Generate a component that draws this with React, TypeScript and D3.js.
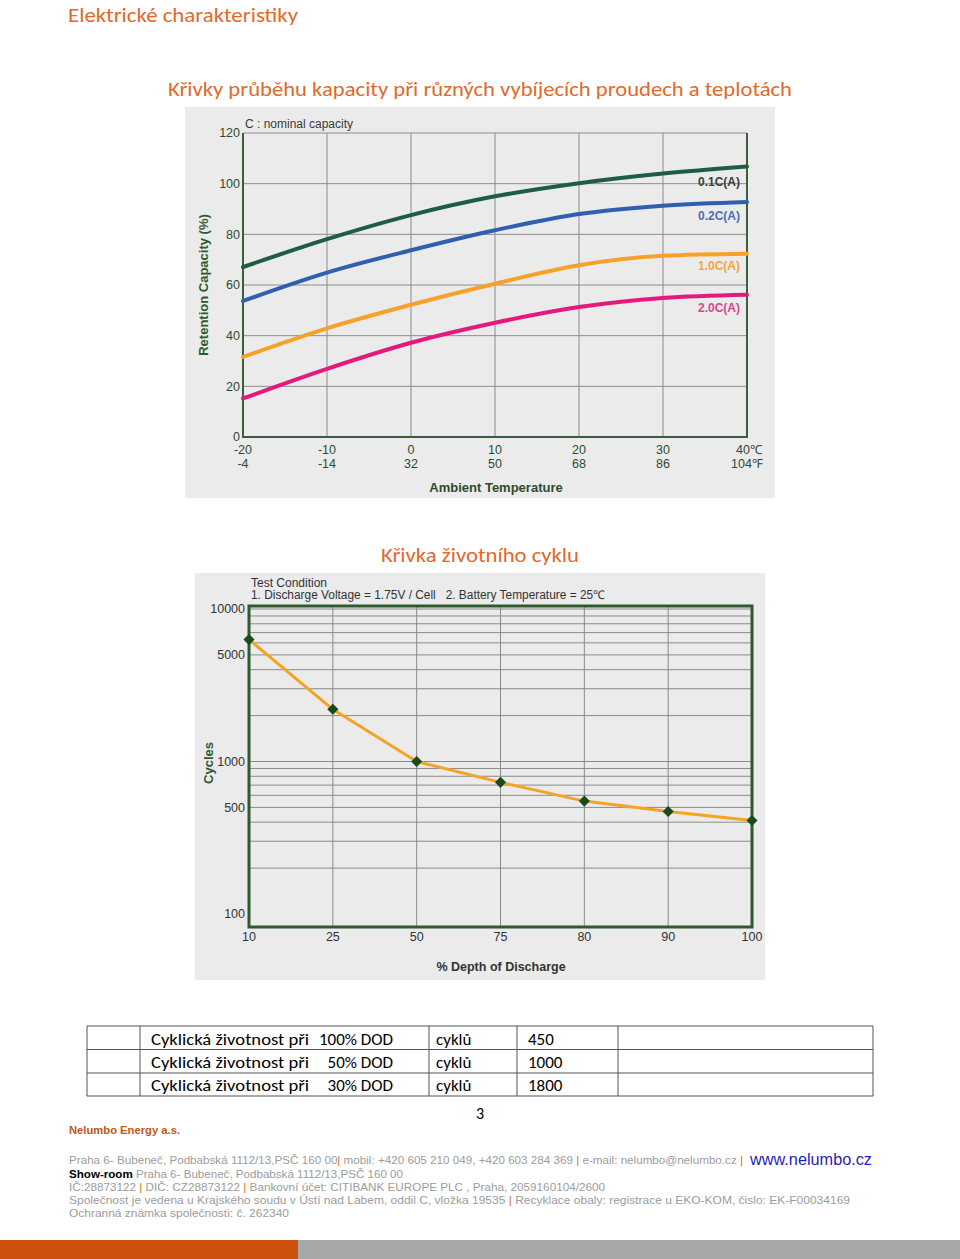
import React from "react";
import * as d3 from "d3";

// ---------- Chart 1 data: retention capacity vs ambient temperature ----------
const tempC = [-20, -10, 0, 10, 20, 30, 40];
const tempCLabels = ["-20", "-10", "0", "10", "20", "30", "40℃"];
const tempFLabels = ["-4", "-14", "32", "50", "68", "86", "104℉"];
const capTicks = [0, 20, 40, 60, 80, 100, 120];
const seriesNames = ["0.1C(A)", "0.2C(A)", "1.0C(A)", "2.0C(A)"];
const cap01 = [67.1, 78.1, 87.6, 95.0, 100.2, 104.0, 106.8];
const cap02 = [53.7, 64.9, 73.7, 81.6, 88.0, 91.3, 92.8];
const cap10 = [31.6, 42.9, 52.2, 60.5, 67.8, 71.5, 72.3];
const cap20 = [15.2, 26.9, 37.2, 45.1, 51.3, 54.9, 56.2];
const seriesColors = ["#1d5c45", "#2f5fae", "#f6a22a", "#e5197c"];
const labelColors = ["#3a3f3a", "#4a6fb2", "#f3a63e", "#d8468c"];

// ---------- Chart 2 data: cycle life vs depth of discharge ----------
const dodLabels = ["10", "25", "50", "75", "80", "90", "100"];
const cycles = [6300, 2200, 1000, 730, 550, 470, 410];
const cycleTicks = [10000, 5000, 1000, 500, 100];

// ---------- Table ----------
const tableLabel = ["Cyklická životnost při", "Cyklická životnost při", "Cyklická životnost při"];
const tableDod = ["100% DOD", "50% DOD", "30% DOD"];
const tableUnit = ["cyklů", "cyklů", "cyklů"];
const tableValue = ["450", "1000", "1800"];

const HEAD = "Carlito, Calibri, 'Open Sans', 'Noto Sans', sans-serif";
const ARIAL = "'Liberation Sans', Arial, sans-serif";

function CapacityChart() {
  const x = d3.scaleLinear().domain([-20, 40]).range([243, 747]);
  const y = d3.scaleLinear().domain([0, 120]).range([437, 133]);
  const all = [cap01, cap02, cap10, cap20];
  const line = d3
    .line<number>()
    .x((_, i) => x(tempC[i]))
    .y((d) => y(d))
    .curve(d3.curveMonotoneX);
  const labelY = [182, 216, 266, 308];
  const axisCol = "#2f4a2f";
  return (
    <g>
      <rect x={185} y={107} width={590} height={391} fill="#ebebeb" />
      {capTicks.map((t) => (
        <line key={"h" + t} x1={x(-20)} x2={x(40)} y1={y(t)} y2={y(t)} stroke="#8c8c8c" strokeWidth={1} />
      ))}
      {tempC.map((t) => (
        <line key={"v" + t} x1={x(t)} x2={x(t)} y1={y(0)} y2={y(120)} stroke="#8c8c8c" strokeWidth={1} />
      ))}
      <path d={`M${x(-20)},${y(120)}V${y(0)}H${x(40)}V${y(120)}`} fill="none" stroke="#3d5e3d" strokeWidth={2} />
      {all.map((s, i) => (
        <path key={i} d={line(s) || ""} fill="none" stroke={seriesColors[i]} strokeWidth={4} strokeLinecap="round" />
      ))}
      {seriesNames.map((n, i) => (
        <text key={n} x={740} y={labelY[i]} dy="0.35em" textAnchor="end" fontFamily={ARIAL} fontSize={12} fontWeight="bold" fill={labelColors[i]}>
          {n}
        </text>
      ))}
      {capTicks.map((t) => (
        <text key={"yt" + t} x={240} y={y(t)} dy="0.35em" textAnchor="end" fontFamily={ARIAL} fontSize={12.5} fill={axisCol}>
          {t}
        </text>
      ))}
      {tempC.map((t, i) => (
        <g key={"xt" + t}>
          <text x={i === 6 ? x(t) - 11 : x(t)} y={450} dy="0.35em" textAnchor={i === 6 ? "start" : "middle"} fontFamily={ARIAL} fontSize={12.5} fill={axisCol}>
            {tempCLabels[i]}
          </text>
          <text x={i === 6 ? x(t) - 16 : x(t)} y={464} dy="0.35em" textAnchor={i === 6 ? "start" : "middle"} fontFamily={ARIAL} fontSize={12.5} fill={axisCol}>
            {tempFLabels[i]}
          </text>
        </g>
      ))}
      <text x={245} y={124} dy="0.35em" fontFamily={ARIAL} fontSize={12} fill="#3a3a3a">
        C : nominal capacity
      </text>
      <text transform="translate(203,285) rotate(-90)" dy="0.35em" textAnchor="middle" fontFamily={ARIAL} fontSize={13} fontWeight="bold" fill="#2f5a32">
        Retention Capacity (%)
      </text>
      <text x={496} y={487} dy="0.35em" textAnchor="middle" fontFamily={ARIAL} fontSize={13} fontWeight="bold" fill="#2f4a2f">
        Ambient Temperature
      </text>
    </g>
  );
}

function CycleChart() {
  const x = d3.scalePoint<string>().domain(dodLabels).range([249, 752]);
  const y = d3.scaleLog().domain([100, 10000]).range([914, 609]);
  const top = 606;
  const bottom = 927;
  const grid: number[] = [];
  for (let dec = 100; dec < 10000; dec *= 10) {
    for (let k = 2; k <= 10; k++) grid.push(dec * k);
  }
  const line = d3
    .line<number>()
    .x((_, i) => x(dodLabels[i]) as number)
    .y((d) => y(d))
    .curve(d3.curveLinear);
  const diamond = d3.symbol().type(d3.symbolSquare).size(62)();
  return (
    <g>
      <rect x={195} y={573} width={570} height={407} fill="#ebebeb" />
      {grid.map((g) => (
        <line key={"g" + g} x1={249} x2={752} y1={y(g)} y2={y(g)} stroke="#8a8a8a" strokeWidth={1} />
      ))}
      {dodLabels.map((d) => (
        <line key={"v" + d} x1={x(d)} x2={x(d)} y1={top} y2={bottom} stroke="#8a8a8a" strokeWidth={1} />
      ))}
      <rect x={249} y={top} width={752 - 249} height={bottom - top} fill="none" stroke="#2e5a2e" strokeWidth={3} />
      <path d={line(cycles) || ""} fill="none" stroke="#f4a424" strokeWidth={3} strokeLinejoin="round" />
      {cycles.map((c, i) => (
        <path key={"m" + i} d={diamond || ""} transform={`translate(${x(dodLabels[i])},${y(c)}) rotate(45)`} fill="#1b4a1b" />
      ))}
      {cycleTicks.map((t) => (
        <text key={"yt" + t} x={245} y={y(t)} dy="0.35em" textAnchor="end" fontFamily={ARIAL} fontSize={12.5} fill="#333">
          {t}
        </text>
      ))}
      {dodLabels.map((d) => (
        <text key={"xt" + d} x={x(d)} y={937} dy="0.35em" textAnchor="middle" fontFamily={ARIAL} fontSize={12.5} fill="#333">
          {d}
        </text>
      ))}
      <text x={251} y={583} dy="0.35em" fontFamily={ARIAL} fontSize={12} fill="#333">
        Test Condition
      </text>
      <text x={251} y={595} dy="0.35em" fontFamily={ARIAL} fontSize={12} fill="#333" style={{ whiteSpace: "pre" }} textLength={354} lengthAdjust="spacingAndGlyphs">
        {"1. Discharge Voltage = 1.75V / Cell   2. Battery Temperature = 25℃"}
      </text>
      <text transform="translate(208,763) rotate(-90)" dy="0.35em" textAnchor="middle" fontFamily={ARIAL} fontSize={13} fontWeight="bold" fill="#2f5a32">
        Cycles
      </text>
      <text x={501} y={967} dy="0.35em" textAnchor="middle" fontFamily={ARIAL} fontSize={12.5} fontWeight="bold" fill="#333">
        % Depth of Discharge
      </text>
    </g>
  );
}

function Table() {
  const cols = [87, 140, 429, 517, 618, 873];
  const rows = [1026, 1049.5, 1073, 1096];
  return (
    <g>
      {rows.map((r) => (
        <line key={"r" + r} x1={87} x2={873} y1={r} y2={r} stroke="#555" strokeWidth={1} />
      ))}
      {cols.map((c) => (
        <line key={"c" + c} x1={c} x2={c} y1={1026} y2={1096} stroke="#555" strokeWidth={1} />
      ))}
      {tableValue.map((v, i) => {
        const cy = (rows[i] + rows[i + 1]) / 2 + 1;
        return (
          <g key={"row" + i} fontFamily={HEAD} fontSize={17} fill="#000">
            <text x={151} y={cy} dy="0.35em" textLength={158} lengthAdjust="spacingAndGlyphs">{tableLabel[i]}</text>
            <text x={393} y={cy} dy="0.35em" textAnchor="end">{tableDod[i]}</text>
            <text x={436} y={cy} dy="0.35em">{tableUnit[i]}</text>
            <text x={528} y={cy} dy="0.35em">{v}</text>
          </g>
        );
      })}
    </g>
  );
}

function Footer() {
  const gray = "#9c9c9c";
  const or = "#d0701e";
  return (
    <g fontFamily={ARIAL} fontSize={11}>
      <text x={480} y={1113} dy="0.35em" textAnchor="middle" fontFamily={HEAD} fontSize={16} fill="#000">3</text>
      <text x={69} y={1130} dy="0.35em" fontWeight="bold" fill="#c0561a" textLength={111} lengthAdjust="spacingAndGlyphs">
        Nelumbo Energy a.s.
      </text>
      <text x={69} y={1160} dy="0.35em" fill={gray} textLength={674} lengthAdjust="spacingAndGlyphs" style={{ whiteSpace: "pre" }}>
        <tspan>Praha 6- Bubeneč, Podbabská 1112/13,PSČ 160 00</tspan>
        <tspan fill={or}>|</tspan>
        <tspan> mobil: +420 605 210 049, +420 603 284 369 </tspan>
        <tspan fill={or}>|</tspan>
        <tspan> e-mail: nelumbo@nelumbo.cz </tspan>
        <tspan fill={or}>|</tspan>
      </text>
      <text x={750} y={1159} dy="0.35em" fontSize={16} fill="#1f1fb4" textLength={122} lengthAdjust="spacingAndGlyphs">
        www.nelumbo.cz
      </text>
      <text x={69} y={1174} dy="0.35em" fill={gray} textLength={334} lengthAdjust="spacingAndGlyphs" style={{ whiteSpace: "pre" }}>
        <tspan fill="#000" fontWeight="bold">Show-room</tspan>
        <tspan> Praha 6- Bubeneč, Podbabská 1112/13,PSČ 160 00</tspan>
      </text>
      <text x={69} y={1187} dy="0.35em" fill={gray} textLength={536} lengthAdjust="spacingAndGlyphs" style={{ whiteSpace: "pre" }}>
        <tspan>IČ:28873122 </tspan>
        <tspan fill={or}>|</tspan>
        <tspan> DIČ: CZ28873122 </tspan>
        <tspan fill={or}>|</tspan>
        <tspan> Bankovní účet: CITIBANK EUROPE PLC , Praha, 2059160104/2600</tspan>
      </text>
      <text x={69} y={1200} dy="0.35em" fill={gray} textLength={781} lengthAdjust="spacingAndGlyphs" style={{ whiteSpace: "pre" }}>
        <tspan>Společnost je vedena u Krajského soudu v Ústí nad Labem, oddil C, vložka 19535 </tspan>
        <tspan fill={or}>|</tspan>
        <tspan> Recyklace obaly: registrace u EKO-KOM, čislo: EK-F00034169</tspan>
      </text>
      <text x={69} y={1213} dy="0.35em" fill={gray} textLength={220} lengthAdjust="spacingAndGlyphs">
        Ochranná známka společnosti: č. 262340
      </text>
      <rect x={0} y={1240} width={298} height={19} fill="#cc520e" />
      <rect x={298} y={1240} width={662} height={19} fill="#a7a8aa" />
    </g>
  );
}

export default function App() {
  const orange = "#e2692a";
  return (
    <svg width={960} height={1259} style={{ position: "absolute", left: 0, top: 0, background: "#fff" }}>
      <rect x={0} y={0} width={960} height={1259} fill="#fff" />
      <text x={68} y={15} dy="0.35em" fontFamily={HEAD} fontSize={20} fill={orange} textLength={230} lengthAdjust="spacingAndGlyphs">
        Elektrické charakteristiky
      </text>
      <text x={168} y={89} dy="0.35em" fontFamily={HEAD} fontSize={20} fill={orange} textLength={624} lengthAdjust="spacingAndGlyphs">
        Křivky průběhu kapacity při různých vybíjecích proudech a teplotách
      </text>
      <CapacityChart />
      <text x={381} y={555} dy="0.35em" fontFamily={HEAD} fontSize={20} fill={orange} textLength={198} lengthAdjust="spacingAndGlyphs">
        Křivka životního cyklu
      </text>
      <CycleChart />
      <Table />
      <Footer />
    </svg>
  );
}
